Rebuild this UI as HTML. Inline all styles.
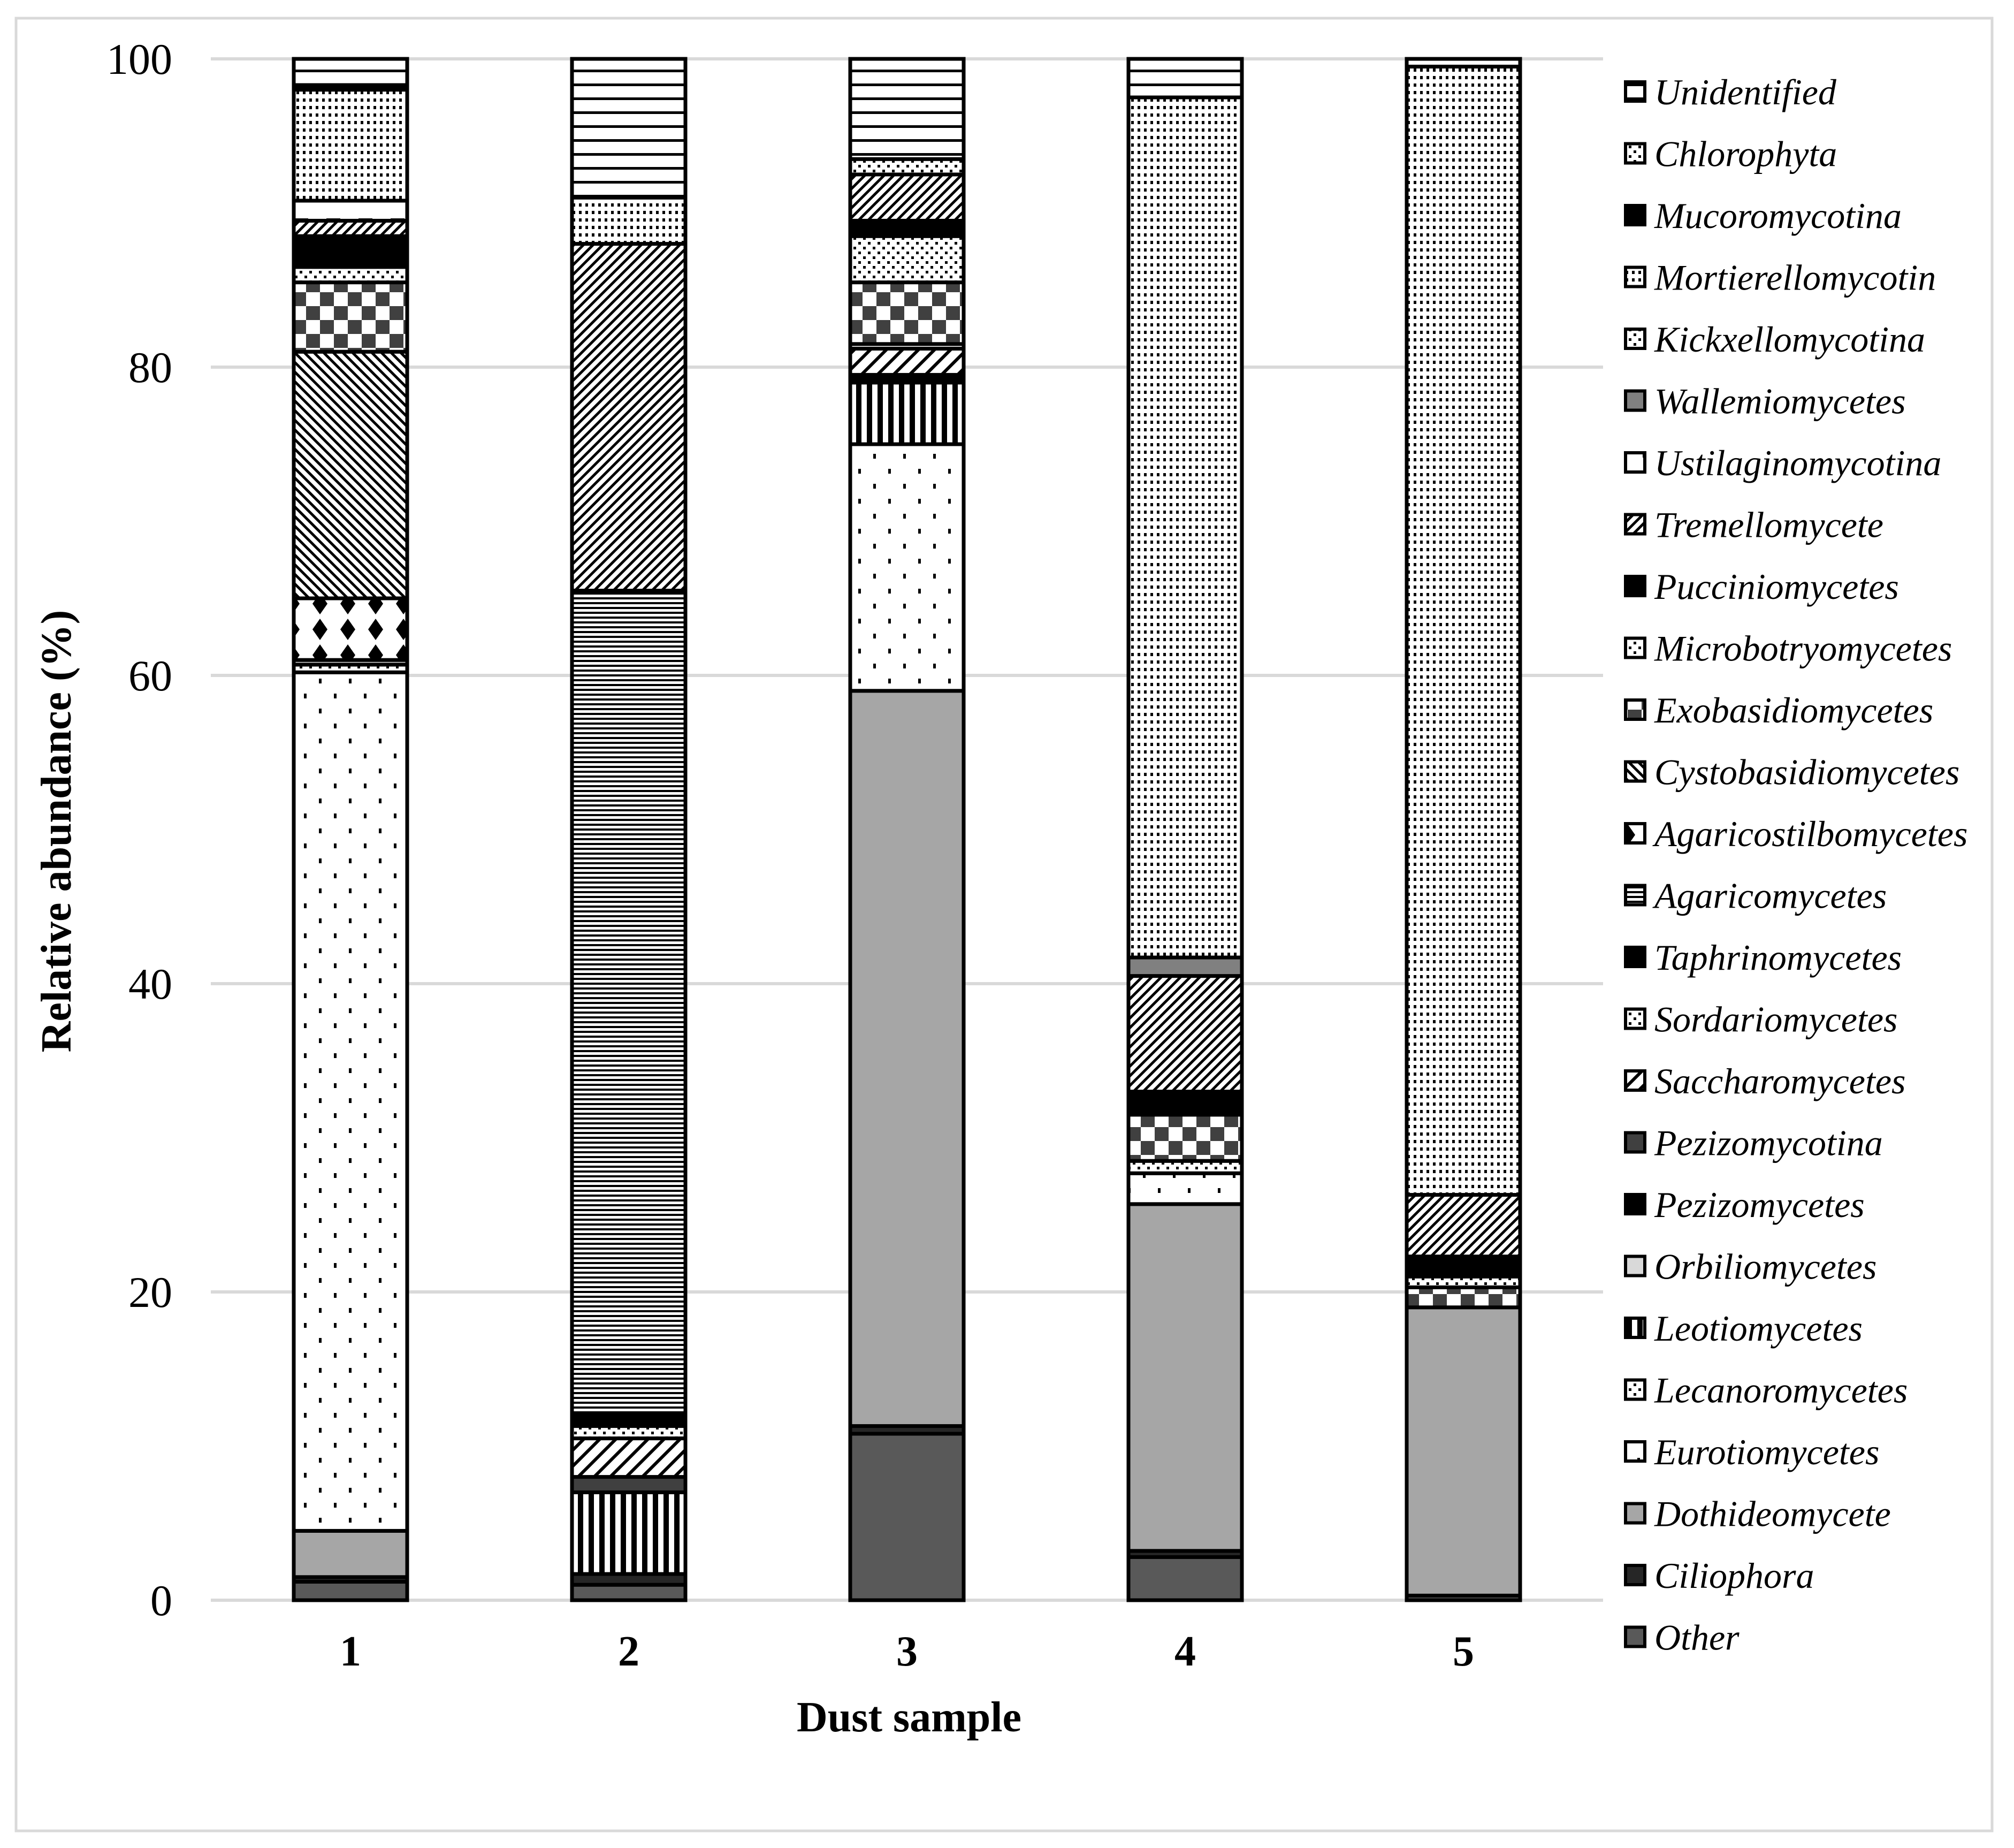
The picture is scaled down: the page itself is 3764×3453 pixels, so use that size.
<!DOCTYPE html>
<html><head><meta charset="utf-8">
<style>
html,body{margin:0;padding:0;background:#fff}
svg{display:block}
text{font-family:"Liberation Serif",serif}
</style></head>
<body>
<svg id="chart" width="3764" height="3453" viewBox="0 0 3764 3453" xmlns="http://www.w3.org/2000/svg">
<defs>
 <pattern id="p-sparse" width="56" height="56" patternUnits="userSpaceOnUse"><rect width="56" height="56" fill="#fff"/><rect x="8" y="8" width="5" height="9" fill="#000"/><rect x="36" y="36" width="5" height="9" fill="#000"/></pattern>
 <pattern id="p-dense" width="12" height="14" patternUnits="userSpaceOnUse"><rect width="12" height="14" fill="#fff"/><rect x="2" y="2" width="5" height="6" fill="#000"/></pattern>
 <pattern id="p-small" width="18" height="18" patternUnits="userSpaceOnUse"><rect width="18" height="18" fill="#fff"/><rect x="2" y="2" width="5" height="5" fill="#000"/><rect x="11" y="11" width="5" height="5" fill="#000"/></pattern>
 <pattern id="p-hlines" width="10" height="9" patternUnits="userSpaceOnUse"><rect width="10" height="9" fill="#fff"/><rect y="0" width="10" height="4" fill="#000"/></pattern>
 <pattern id="p-hwide" width="10" height="26" patternUnits="userSpaceOnUse"><rect width="10" height="26" fill="#fff"/><rect y="0" width="10" height="5" fill="#000"/></pattern>
 <pattern id="p-vert" width="20" height="10" patternUnits="userSpaceOnUse"><rect width="20" height="10" fill="#fff"/><rect x="0" width="10" height="10" fill="#000"/></pattern>
 <pattern id="p-diag" width="18" height="18" patternUnits="userSpaceOnUse"><rect width="18" height="18" fill="#fff"/><path d="M-2,20 L20,-2 M-2,2 L2,-2 M16,20 L20,16" stroke="#000" stroke-width="5"/></pattern>
 <pattern id="p-bdiag" width="18" height="18" patternUnits="userSpaceOnUse"><rect width="18" height="18" fill="#fff"/><path d="M-2,-2 L20,20 M16,-2 L20,2 M-2,16 L2,20" stroke="#000" stroke-width="5"/></pattern>
 <pattern id="p-wdiag" width="30" height="30" patternUnits="userSpaceOnUse"><rect width="30" height="30" fill="#fff"/><path d="M-3,33 L33,-3 M-3,3 L3,-3 M27,33 L33,27" stroke="#000" stroke-width="6"/></pattern>
 <pattern id="p-check" width="52" height="52" patternUnits="userSpaceOnUse"><rect width="52" height="52" fill="#fff"/><rect width="26" height="26" fill="#404040"/><rect x="26" y="26" width="26" height="26" fill="#404040"/></pattern>
 <pattern id="p-diamond" width="52" height="48" patternUnits="userSpaceOnUse"><rect width="52" height="48" fill="#fff"/><path d="M26,4 L40,24 L26,44 L12,24 Z" fill="#000"/></pattern>
 <pattern id="p-dash" width="60" height="40" patternUnits="userSpaceOnUse"><rect width="60" height="40" fill="#fff"/><rect x="10" y="8" width="26" height="7" fill="#000"/></pattern>
</defs>
<rect x="30" y="34" width="3693" height="3387" fill="#fff" stroke="#d9d9d9" stroke-width="5"/>
<g id="grid"></g>
<g id="bars"></g>
<g id="legend"></g>
<text x="0" y="0" transform="translate(132,1553) rotate(-90)" text-anchor="middle" font-size="80" font-weight="bold">Relative abundance (%)</text>
<text x="1699" y="3235" text-anchor="middle" font-size="80" font-weight="bold">Dust sample</text>
</svg>
<script>
const categories = ["1","2","3","4","5"];
const yTicks = [0,20,40,60,80,100];
const seriesNames = ["Other","Ciliophora","Dothideomycete","Eurotiomycetes","Lecanoromycetes","Leotiomycetes","Orbiliomycetes","Pezizomycetes","Pezizomycotina","Saccharomycetes","Sordariomycetes","Taphrinomycetes","Agaricomycetes","Agaricostilbomycetes","Cystobasidiomycetes","Exobasidiomycetes","Microbotryomycetes","Pucciniomycetes","Tremellomycete","Ustilaginomycotina","Wallemiomycetes","Kickxellomycotina","Mortierellomycotin","Mucoromycotina","Chlorophyta","Unidentified"];
const vOther = [1.2,1.0,10.8,2.8,0.3];
const vCiliophora = [0.3,0.7,0.5,0.4,0];
const vDothideomycete = [3.0,0,47.7,22.5,18.7];
const vEurotiomycetes = [55.7,0,16,2,0];
const vLecanoromycetes = [0.5,0,0,0.8,0];
const vLeotiomycetes = [0,5.3,4,0,0];
const vOrbiliomycetes = [0.3,0,0,0,0];
const vPezizomycetes = [0,0,0.5,0,0];
const vPezizomycotina = [0,1.0,0,0,0];
const vSaccharomycetes = [0,2.5,1.7,0,0];
const vSordariomycetes = [0,0.8,0.3,0,0];
const vTaphrinomycetes = [0,0.7,0,0,0];
const vAgaricomycetes = [0,53.5,0,0,0];
const vAgaricostilbomycetes = [4,0,0,0,0];
const vCystobasidiomycetes = [16,0,0,0,0];
const vExobasidiomycetes = [4.5,0,4,3,1.3];
const vMicrobotryomycetes = [1,0,3,0,0.7];
const vPucciniomycetes = [2,0,1,1.5,1.3];
const vTremellomycete = [1,22.5,3,7.5,4];
const vUstilaginomycotina = [1.3,0,0,0,0];
const vWallemiomycetes = [0,0,0,1.2,0];
const vKickxellomycotina = [0,0,1,0,0];
const vMortierellomycotin = [7.2,3,0,55.8,73.2];
const vMucoromycotina = [0.3,0,0,0,0];
const vChlorophyta = [0,0,0,0,0];
const vUnidentified = [1.7,9,6.5,2.5,0.5];
const seriesValues = [vOther,vCiliophora,vDothideomycete,vEurotiomycetes,vLecanoromycetes,vLeotiomycetes,vOrbiliomycetes,vPezizomycetes,vPezizomycotina,vSaccharomycetes,vSordariomycetes,vTaphrinomycetes,vAgaricomycetes,vAgaricostilbomycetes,vCystobasidiomycetes,vExobasidiomycetes,vMicrobotryomycetes,vPucciniomycetes,vTremellomycete,vUstilaginomycotina,vWallemiomycetes,vKickxellomycotina,vMortierellomycotin,vMucoromycotina,vChlorophyta,vUnidentified];
const fills = ["#595959","#262626","#a6a6a6","url(#p-sparse)","url(#p-small)","url(#p-vert)","#d9d9d9","#000","#404040","url(#p-wdiag)","url(#p-small)","#000","url(#p-hlines)","url(#p-diamond)","url(#p-bdiag)","url(#p-check)","url(#p-small)","#000","url(#p-diag)","url(#p-dash)","#808080","url(#p-small)","url(#p-dense)","#000","url(#p-small)","url(#p-hwide)"];

const NS="http://www.w3.org/2000/svg";
const Y0=2990, PX=28.8;
const yScale = v => Y0 - v*PX;
const xScale = i => 655 + i*520;
const BW=212;
function mk(tag, attrs, parent){const e=document.createElementNS(NS,tag);for(const k in attrs)e.setAttribute(k,attrs[k]);parent.appendChild(e);return e;}

const grid=document.getElementById('grid');
yTicks.forEach(t=>{
  const l=mk('line',{x1:394,x2:2996,y1:yScale(t),y2:yScale(t),stroke:'#d9d9d9','stroke-width':6},grid);
  
  
  const tx=mk('text',{x:322,y:yScale(t)+28,'text-anchor':'end','font-size':82},grid);
  tx.textContent=t;
  
  
});

const bars=document.getElementById('bars');
categories.forEach((c,i)=>{
  const g=mk('g',{},bars);
  
  
  let cum=0;
  seriesValues.forEach((arr,s)=>{
    const v=arr[i]; if(!v) return;
    const yTop=yScale(cum+v), yBot=yScale(cum);
    const r=mk('rect',{x:xScale(i)-BW/2,y:yTop,width:BW,height:yBot-yTop,fill:fills[s],stroke:'#000','stroke-width':7},g);
    
    
    cum+=v;
  });
  const lab=mk('text',{x:xScale(i),y:3112,'text-anchor':'middle','font-size':80,'font-weight':'bold'},bars);
  lab.textContent=c;
  
  
});

const legend=document.getElementById('legend');
for(let k=0;k<seriesNames.length;k++){
  const s=seriesNames.length-1-k;
  const cy=171+k*115.5;
  const g=mk('g',{},legend);
  
  
  mk('rect',{x:3038,y:cy-18,width:36,height:36,fill:fills[s],stroke:'#000','stroke-width':6},g);
  const t=mk('text',{x:3092,y:cy+24,'font-size':68,'font-style':'italic'},g);
  t.textContent=seriesNames[s];
}
</script>
</body></html>
